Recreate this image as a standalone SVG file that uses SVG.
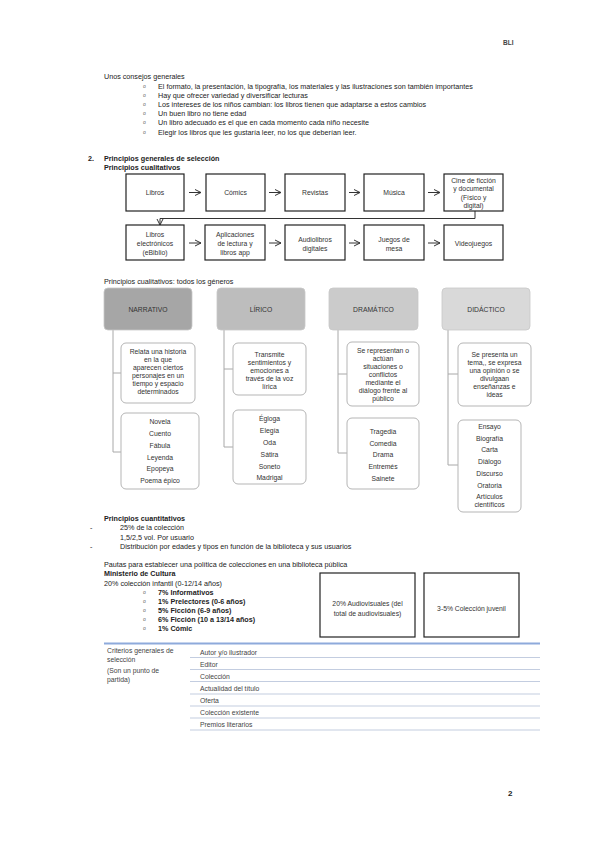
<svg xmlns="http://www.w3.org/2000/svg" width="599" height="848" viewBox="0 0 599 848">
<defs>
<style>
text{font-family:"Liberation Sans",Arial,sans-serif;}
.t{font-size:7.2px;fill:#222;}
.b{font-size:7.2px;fill:#222;font-weight:bold;}
.bul{font-size:5px;fill:#666;}
.box{fill:#fff;stroke:#222;stroke-width:1.2;}
.bt{font-size:6.8px;fill:#333;text-anchor:middle;}
.gh{stroke:#c8c8c8;stroke-width:0.8;}
.ght{font-size:6.8px;fill:#333;text-anchor:middle;}
.sub{fill:#fff;stroke:#b5b5b5;stroke-width:1;}
.st{font-size:6.8px;fill:#333;text-anchor:middle;}
.tree{fill:none;stroke:#a8a8a8;stroke-width:1;}
.conn{fill:none;stroke:#333;stroke-width:1;}
.tl{stroke:#c3cde0;stroke-width:1.2;}
.tt{font-size:6.8px;fill:#444;}
</style>
<marker id="ch" viewBox="0 0 8 8" refX="7" refY="4" markerWidth="8" markerHeight="8" markerUnits="userSpaceOnUse" orient="auto">
<path d="M1,1 L7,4 L1,7" fill="none" stroke="#333" stroke-width="1"/>
</marker>
</defs>
<rect width="599" height="848" fill="#fff"/>

<text x="503" y="45" style="font-size:6.5px;fill:#444;font-weight:bold;">BLI</text>

<g id="consejos">
<text class="t" x="104" y="79">Unos consejos generales</text>
<text class="bul" x="143" y="88">o</text><text class="t" x="158" y="89">El formato, la presentación, la tipografía, los materiales y las ilustraciones son también importantes</text>
<text class="bul" x="143" y="97">o</text><text class="t" x="158" y="98">Hay que ofrecer variedad y diversificar lecturas</text>
<text class="bul" x="143" y="106">o</text><text class="t" x="158" y="107">Los intereses de los niños cambian: los libros tienen que adaptarse a estos cambios</text>
<text class="bul" x="143" y="115">o</text><text class="t" x="158" y="116">Un buen libro no tiene edad</text>
<text class="bul" x="143" y="124">o</text><text class="t" x="158" y="125">Un libro adecuado es el que en cada momento cada niño necesite</text>
<text class="bul" x="143" y="134">o</text><text class="t" x="158" y="135">Elegir los libros que les gustaría leer, no los que deberían leer.</text>
</g>

<text class="b" x="88" y="161">2.</text>
<text class="b" x="104" y="161">Principios generales de selección</text>
<text class="b" x="104" y="170">Principios cualitativos</text>

<g id="connectors">
<line class="conn" x1="189" y1="192.5" x2="201" y2="192.5" marker-end="url(#ch)"/>
<line class="conn" x1="269" y1="192.5" x2="281" y2="192.5" marker-end="url(#ch)"/>
<line class="conn" x1="349" y1="192.5" x2="360" y2="192.5" marker-end="url(#ch)"/>
<line class="conn" x1="428" y1="192.5" x2="440" y2="192.5" marker-end="url(#ch)"/>
<polyline class="conn" points="475,211 475,218.5 160,218.5 160,225" marker-end="url(#ch)"/>
<line class="conn" x1="189" y1="243" x2="201" y2="243" marker-end="url(#ch)"/>
<line class="conn" x1="269" y1="243" x2="281" y2="243" marker-end="url(#ch)"/>
<line class="conn" x1="349" y1="243" x2="360" y2="243" marker-end="url(#ch)"/>
<line class="conn" x1="428" y1="243" x2="440" y2="243" marker-end="url(#ch)"/>
</g>

<g id="n-libros"><rect class="box" x="126" y="174" width="58" height="37"/><text class="bt" x="155" y="195">Libros</text></g>
<g id="n-comics"><rect class="box" x="206" y="174" width="59" height="37"/><text class="bt" x="235.5" y="195">Cómics</text></g>
<g id="n-revistas"><rect class="box" x="285" y="174" width="60" height="37"/><text class="bt" x="315" y="195">Revistas</text></g>
<g id="n-musica"><rect class="box" x="364" y="174" width="60" height="37"/><text class="bt" x="394" y="195">Música</text></g>
<g id="n-cine"><rect class="box" x="444" y="174" width="59" height="37"/>
<text class="bt" x="473.5" y="183">Cine de ficción</text><text class="bt" x="473.5" y="191">y documental</text><text class="bt" x="473.5" y="199.5">(Físico y</text><text class="bt" x="473.5" y="207.5">digital)</text></g>

<g id="n-ebooks"><rect class="box" x="126" y="225" width="58" height="35"/>
<text class="bt" x="155" y="237">Libros</text><text class="bt" x="155" y="246">electrónicos</text><text class="bt" x="155" y="255">(eBiblio)</text></g>
<g id="n-apps"><rect class="box" x="205" y="225" width="60" height="35"/>
<text class="bt" x="235" y="237">Aplicaciones</text><text class="bt" x="235" y="246">de lectura y</text><text class="bt" x="235" y="255">libros app</text></g>
<g id="n-audio"><rect class="box" x="285" y="225" width="60" height="35"/>
<text class="bt" x="315" y="241.5">Audiolibros</text><text class="bt" x="315" y="250.5">digitales</text></g>
<g id="n-juegos"><rect class="box" x="364" y="225" width="60" height="35"/>
<text class="bt" x="394" y="241.5">Juegos de</text><text class="bt" x="394" y="250.5">mesa</text></g>
<g id="n-video"><rect class="box" x="444" y="225" width="59" height="35"/>
<text class="bt" x="473.5" y="245.5">Videojuegos</text></g>

<text class="b" x="104" y="284" style="font-weight:normal">Principios cualitativos: todos los géneros</text>

<g id="tree-lines">
<polyline class="tree" points="113,330 113,452 121,452"/><line class="tree" x1="113" y1="373" x2="121" y2="373"/>
<polyline class="tree" points="224,330 224,447 233,447"/><line class="tree" x1="224" y1="369" x2="233" y2="369"/>
<polyline class="tree" points="338,330 338,453 347,453"/><line class="tree" x1="338" y1="374" x2="347" y2="374"/>
<polyline class="tree" points="448,330 448,465 458,465"/><line class="tree" x1="448" y1="374" x2="458" y2="374"/>
</g>

<g id="g-narrativo">
<rect class="gh" x="104" y="288" width="88" height="42" rx="4" fill="#a6a6a6"/>
<text class="ght" x="148" y="311.5">NARRATIVO</text>
</g>
<g id="g-narrativo-desc">
<rect class="sub" x="121" y="343" width="74" height="60" rx="5"/>
<text class="st" x="158" y="354">Relata una historia</text><text class="st" x="158" y="362">en la que</text><text class="st" x="158" y="370">aparecen ciertos</text><text class="st" x="158" y="378">personajes en un</text><text class="st" x="158" y="386">tiempo y espacio</text><text class="st" x="158" y="394">determinados</text>
</g>
<g id="g-narrativo-list">
<rect class="sub" x="121" y="413" width="78" height="76" rx="5"/>
<text class="st" x="160" y="424">Novela</text><text class="st" x="160" y="436">Cuento</text><text class="st" x="160" y="448">Fábula</text><text class="st" x="160" y="459.5">Leyenda</text><text class="st" x="160" y="471">Epopeya</text><text class="st" x="160" y="483">Poema épico</text>
</g>

<g id="g-lirico">
<rect class="gh" x="217" y="288" width="88" height="42" rx="4" fill="#bdbdbd"/>
<text class="ght" x="261" y="311.5">LÍRICO</text>
</g>
<g id="g-lirico-desc">
<rect class="sub" x="233" y="343" width="73" height="52" rx="5"/>
<text class="st" x="269.5" y="356.5">Transmite</text><text class="st" x="269.5" y="364.5">sentimientos y</text><text class="st" x="269.5" y="372.5">emociones a</text><text class="st" x="269.5" y="380.5">través de la voz</text><text class="st" x="269.5" y="388.5">lírica</text>
</g>
<g id="g-lirico-list">
<rect class="sub" x="233" y="410" width="73" height="74" rx="5"/>
<text class="st" x="269.5" y="420.5">Égloga</text><text class="st" x="269.5" y="432.5">Elegía</text><text class="st" x="269.5" y="444.5">Oda</text><text class="st" x="269.5" y="456.5">Sátira</text><text class="st" x="269.5" y="468.5">Soneto</text><text class="st" x="269.5" y="480">Madrigal</text>
</g>

<g id="g-dramatico">
<rect class="gh" x="329" y="288" width="89" height="42" rx="4" fill="#cbcbcb"/>
<text class="ght" x="373.5" y="311.5">DRAMÁTICO</text>
</g>
<g id="g-dramatico-desc">
<rect class="sub" x="347" y="342" width="72" height="64" rx="5"/>
<text class="st" x="383" y="352.5">Se representan o</text><text class="st" x="383" y="360.5">actúan</text><text class="st" x="383" y="368.5">situaciones o</text><text class="st" x="383" y="376.5">conflictos</text><text class="st" x="383" y="384.5">mediante el</text><text class="st" x="383" y="392.5">diálogo frente al</text><text class="st" x="383" y="400.5">público</text>
</g>
<g id="g-dramatico-list">
<rect class="sub" x="347" y="418" width="72" height="71" rx="5"/>
<text class="st" x="383" y="433.5">Tragedia</text><text class="st" x="383" y="445.5">Comedia</text><text class="st" x="383" y="457">Drama</text><text class="st" x="383" y="469">Entremés</text><text class="st" x="383" y="481">Sainete</text>
</g>

<g id="g-didactico">
<rect class="gh" x="442" y="288" width="88" height="42" rx="4" fill="#d9d9d9"/>
<text class="ght" x="486" y="311.5">DIDÁCTICO</text>
</g>
<g id="g-didactico-desc">
<rect class="sub" x="458" y="343" width="73" height="63" rx="5"/>
<text class="st" x="494.5" y="356.5">Se presenta un</text><text class="st" x="494.5" y="364.5">tema,, se expresa</text><text class="st" x="494.5" y="372.5">una opinión o se</text><text class="st" x="494.5" y="380.5">divulgaan</text><text class="st" x="494.5" y="388.5">enseñanzas e</text><text class="st" x="494.5" y="396.5">ideas</text>
</g>
<g id="g-didactico-list">
<rect class="sub" x="458" y="420" width="63" height="92" rx="5"/>
<text class="st" x="489.5" y="428.5">Ensayo</text><text class="st" x="489.5" y="440.5">Biografía</text><text class="st" x="489.5" y="451.5">Carta</text><text class="st" x="489.5" y="463.5">Diálogo</text><text class="st" x="489.5" y="475.5">Discurso</text><text class="st" x="489.5" y="487.5">Oratoria</text><text class="st" x="489.5" y="498.5">Artículos</text><text class="st" x="489.5" y="506.5">científicos</text>
</g>

<g id="cuantitativos">
<text class="b" x="104" y="521">Principios cuantitativos</text>
<text class="t" x="90" y="530">-</text><text class="t" x="120" y="530">25% de la colección</text>
<text class="t" x="120" y="539.5">1,5/2,5 vol. Por usuario</text>
<text class="t" x="90" y="549">-</text><text class="t" x="120" y="549">Distribución por edades y tipos en función de la biblioteca y sus usuarios</text>
<text class="t" x="104" y="567">Pautas para establecer una política de colecciones en una biblioteca pública</text>
<text class="b" x="104" y="576">Ministerio de Cultura</text>
<text class="t" x="104" y="585.5">20% colección infantil (0-12/14 años)</text>
<text class="bul" x="143" y="594">o</text><text class="b" x="158" y="595">7% Informativos</text>
<text class="bul" x="143" y="603">o</text><text class="b" x="158" y="604">1% Prelectores (0-6 años)</text>
<text class="bul" x="143" y="612">o</text><text class="b" x="158" y="613">5% Ficción (6-9 años)</text>
<text class="bul" x="143" y="621">o</text><text class="b" x="158" y="622">6% Ficción (10 a 13/14 años)</text>
<text class="bul" x="143" y="630">o</text><text class="b" x="158" y="631">1% Cómic</text>
</g>

<g id="n-audiovisuales"><rect class="box" x="320" y="573" width="95" height="64"/>
<text class="bt" x="367.5" y="606">20% Audiovisuales (del</text><text class="bt" x="367.5" y="615.5">total de audiovisuales)</text></g>
<g id="n-juvenil"><rect class="box" x="424" y="573" width="95" height="64"/>
<text class="bt" x="471.5" y="611">3-5% Colección juvenil</text></g>

<g id="tabla">
<line x1="104" y1="643.5" x2="540" y2="643.5" stroke="#8eaadb" stroke-width="1.8"/>
<text class="tt" x="107" y="653">Criterios generales de</text>
<text class="tt" x="107" y="662">selección</text>
<text class="tt" x="107" y="673">(Son un punto de</text>
<text class="tt" x="107" y="682">partida)</text>
<text class="tt" x="200" y="654.5">Autor y/o ilustrador</text><line class="tl" x1="190" y1="657.5" x2="540" y2="657.5"/>
<text class="tt" x="200" y="666.5">Editor</text><line class="tl" x1="190" y1="669.5" x2="540" y2="669.5"/>
<text class="tt" x="200" y="678.5">Colección</text><line class="tl" x1="190" y1="681.5" x2="540" y2="681.5"/>
<text class="tt" x="200" y="691">Actualidad del título</text><line class="tl" x1="190" y1="694" x2="540" y2="694"/>
<text class="tt" x="200" y="703">Oferta</text><line class="tl" x1="190" y1="706" x2="540" y2="706"/>
<text class="tt" x="200" y="715">Colección existente</text><line class="tl" x1="190" y1="718" x2="540" y2="718"/>
<text class="tt" x="200" y="727">Premios literarios</text><line class="tl" x1="190" y1="730" x2="540" y2="730"/>
</g>

<text x="508" y="796" style="font-size:8px;fill:#222;font-weight:bold;">2</text>
</svg>
